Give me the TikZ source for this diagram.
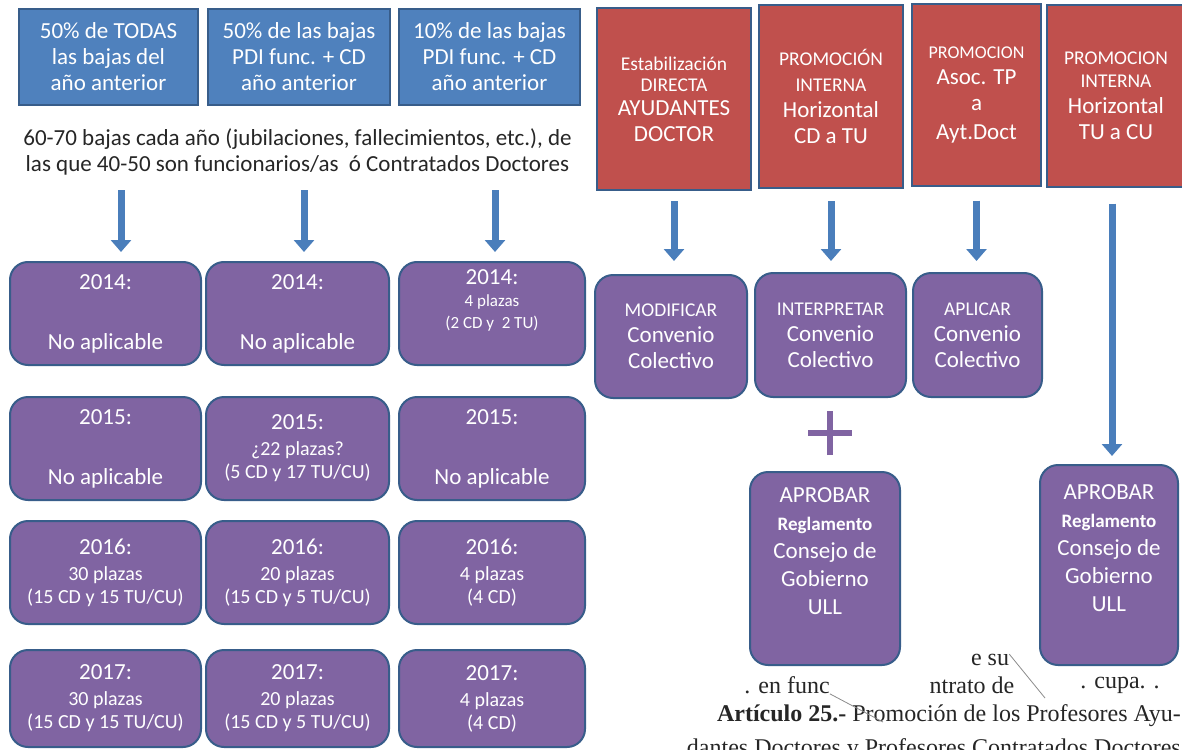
\documentclass[tikz,border=0pt]{standalone}
\usepackage{fontspec}
\setmainfont{Carlito}
\newfontfamily\scanfont{Liberation Serif}
\usetikzlibrary{arrows.meta}

\definecolor{boxblue}{HTML}{4F81BD}
\definecolor{boxedge}{HTML}{385D8A}
\definecolor{boxred}{HTML}{C0504D}
\definecolor{boxpurple}{HTML}{8064A2}
\definecolor{arrowblue}{HTML}{4A7EBB}

\newcommand{\bigtxt}{\fontsize{23}{26}\selectfont}
\newcommand{\smtxt}{\fontsize{20}{23}\selectfont}
\newcommand{\hdtxt}{\fontsize{19.5}{22}\selectfont}

\begin{document}
\begin{tikzpicture}[x=1pt,y=-1pt]
			\tikzset{base box/.style={draw=boxedge,line width=2pt,text=white,align=center,inner sep=0pt}}
			\tikzset{blue box/.style={base box,fill=boxblue,font=\bigtxt}}
			\tikzset{red box/.style={base box,fill=boxred,font=\bigtxt}}
			\tikzset{year box/.style={base box,fill=boxpurple,rounded corners=18pt,font=\bigtxt}}
			\tikzset{down arrow/.style={draw=arrowblue,line width=7pt,-{Triangle[width=20pt,length=12pt]}}}
			\tikzset{scan text/.style={font=\scanfont\fontsize{24}{28}\selectfont,text=black!85,inner sep=0pt}}
			\useasboundingbox (0,0) rectangle (1182,749);
			\fill[white] (0,0) rectangle (1182,749);
			% cupos segun bajas
			\node[blue box,minimum width=179pt,minimum height=96pt] (share1) at (108.5,57) {50\% de TODAS\\las bajas del\\año anterior};
			\node[blue box,minimum width=182pt,minimum height=96pt] (share2) at (299,57) {50\% de las bajas\\PDI func. + CD\\año anterior};
			\node[blue box,minimum width=181pt,minimum height=96pt] (share3) at (489.5,57) {10\% de las bajas\\PDI func. + CD\\año anterior};
			\node[align=center,font=\fontsize{23}{26}\selectfont,text=black!85] (bajas) at (297.5,152) {60-70 bajas cada año (jubilaciones, fallecimientos, etc.), de\\las que 40-50 son funcionarios/as\ \ ó Contratados Doctores};
			\coordinate (a1top) at (121,190); \coordinate (a1tip) at (121,252);
			\coordinate (a2top) at (304,190); \coordinate (a2tip) at (304,252);
			\coordinate (a3top) at (495,190); \coordinate (a3tip) at (495,252);
			\draw[down arrow] (a1top) -- (a1tip);
			\draw[down arrow] (a2top) -- (a2tip);
			\draw[down arrow] (a3top) -- (a3tip);
			% plazas por anyo
			\node[year box,minimum width=191pt,minimum height=103pt] (y14a) at (105.5,313.5) {2014:\\[34pt]No aplicable};
			\node[year box,minimum width=183pt,minimum height=103pt] (y14b) at (297.5,313.5) {2014:\\[34pt]No aplicable};
			\node[year box,minimum width=186pt,minimum height=103pt] (y14c) at (492,313.5) {2014:\\[-4pt]{\fontsize{17}{20}\selectfont 4 plazas}\\[-4pt]{\fontsize{17}{20}\selectfont (2 CD y\ \ 2 TU)}\\[2pt]\mbox{}};
			\node[year box,minimum width=191pt,minimum height=103pt] (y15a) at (105.5,448.5) {2015:\\[34pt]No aplicable};
			\node[year box,minimum width=183pt,minimum height=103pt] (y15b) at (297.5,448.5) {2015:\\{\smtxt ¿22 plazas?}\\[-3pt]{\smtxt (5 CD y 17 TU/CU)}};
			\node[year box,minimum width=186pt,minimum height=103pt] (y15c) at (492,448.5) {2015:\\[34pt]No aplicable};
			\node[year box,minimum width=191pt,minimum height=103pt] (y16a) at (105.5,572.5) {2016:\\{\smtxt 30 plazas}\\[-3pt]{\smtxt (15 CD y 15 TU/CU)}};
			\node[year box,minimum width=183pt,minimum height=103pt] (y16b) at (297.5,572.5) {2016:\\{\smtxt 20 plazas}\\[-3pt]{\smtxt (15 CD y 5 TU/CU)}};
			\node[year box,minimum width=186pt,minimum height=103pt] (y16c) at (492,572.5) {2016:\\{\smtxt 4 plazas}\\[-3pt]{\smtxt (4 CD)}};
			\node[year box,minimum width=191pt,minimum height=97pt] (y17a) at (105.5,698.5) {2017:\\{\smtxt 30 plazas}\\[-3pt]{\smtxt (15 CD y 15 TU/CU)}};
			\node[year box,minimum width=183pt,minimum height=97pt] (y17b) at (297.5,698.5) {2017:\\{\smtxt 20 plazas}\\[-3pt]{\smtxt (15 CD y 5 TU/CU)}};
			\node[year box,minimum width=186pt,minimum height=97pt] (y17c) at (492,698.5) {2017:\\{\smtxt 4 plazas}\\[-3pt]{\smtxt (4 CD)}};
			% vias de estabilizacion y promocion
			\node[red box,minimum width=154pt,minimum height=182pt] (dir) at (674,99) {{\hdtxt Estabilización}\\[-5pt]{\hdtxt DIRECTA}\\[-2pt]AYUDANTES\\DOCTOR};
			\node[red box,minimum width=144pt,minimum height=183pt] (cdtu) at (831,96.5) {{\hdtxt PROMOCIÓN}\\{\hdtxt INTERNA}\\Horizontal\\CD a TU};
			\node[red box,minimum width=129pt,minimum height=181pt] (asoc) at (976.5,95) {{\fontsize{18}{20}\selectfont PROMOCION}\\Asoc. TP\\a\\[3pt]Ayt.Doct};
			\node[red box,minimum width=138pt,minimum height=181pt] (tucu) at (1116,96) {{\hdtxt PROMOCION}\\[-3pt]{\hdtxt INTERNA}\\Horizontal\\TU a CU};
			\node[year box,minimum width=152pt,minimum height=123pt] (modif) at (671,336.5) {{\hdtxt MODIFICAR}\\Convenio\\Colectivo};
			\node[year box,minimum width=151pt,minimum height=124pt] (interp) at (830.5,335) {{\hdtxt INTERPRETAR}\\Convenio\\Colectivo};
			\node[year box,minimum width=129pt,minimum height=124pt] (aplic) at (977.5,335) {{\hdtxt APLICAR}\\Convenio\\Colectivo};
			\node[year box,minimum width=150pt,minimum height=193pt] (regl1) at (825,568.5) {APROBAR\\[2pt]{\bfseries\fontsize{19}{23}\selectfont Reglamento}\\[2pt]Consejo de\\[2pt]Gobierno\\[2pt]ULL\\[8pt]\mbox{}};
			\node[year box,minimum width=138pt,minimum height=200pt] (regl2) at (1109,565) {APROBAR\\[2pt]{\bfseries\fontsize{19}{23}\selectfont Reglamento}\\[2pt]Consejo de\\[2pt]Gobierno\\[2pt]ULL\\[8pt]\mbox{}};
			\draw[down arrow,shorten <=10pt,shorten >=13pt] (dir.south) -- (dir.south |- modif.north);
			\draw[down arrow,shorten <=12pt,shorten >=11pt] (cdtu.south) -- (cdtu.south |- interp.north);
			\draw[down arrow,shorten <=14pt,shorten >=11pt] (asoc.south) -- (asoc.south |- aplic.north);
			\draw[down arrow,shorten <=16pt,shorten >=8pt] ([xshift=-4pt]tucu.south) -- ([xshift=-4pt]tucu.south |- regl2.north);
			\coordinate (plus) at (830,433);
			\draw[boxpurple,line width=6pt] ([xshift=-22pt]plus) -- ([xshift=22pt]plus) ([yshift=-22pt]plus) -- ([yshift=22pt]plus);
			% trozo del reglamento escaneado
			\node[scan text] (frag1) at (990,660) {e su};
			\node[scan text] (frag2) at (787,685) {. en func};
			\node[scan text] (frag3) at (972,685) {ntrato de};
			\node[scan text] (frag4) at (1120,685) {. cupa. .};
			\node[scan text,anchor=east] (art) at (1181,716) {\textbf{Artículo 25.-} Promoción de los Profesores Ayu-};
			\node[scan text,anchor=east] (art2) at (1181,750) {dantes Doctores y Profesores Contratados Doctores};
			\coordinate (fold1) at (883,722);
			\coordinate (fold2) at (1045,698);
			\draw[black!45,line width=0.8pt] (frag2.south east) -- (fold1);
			\draw[black!45,line width=0.8pt] (frag1.north east) -- (fold2);
		\end{tikzpicture}
\end{document}
